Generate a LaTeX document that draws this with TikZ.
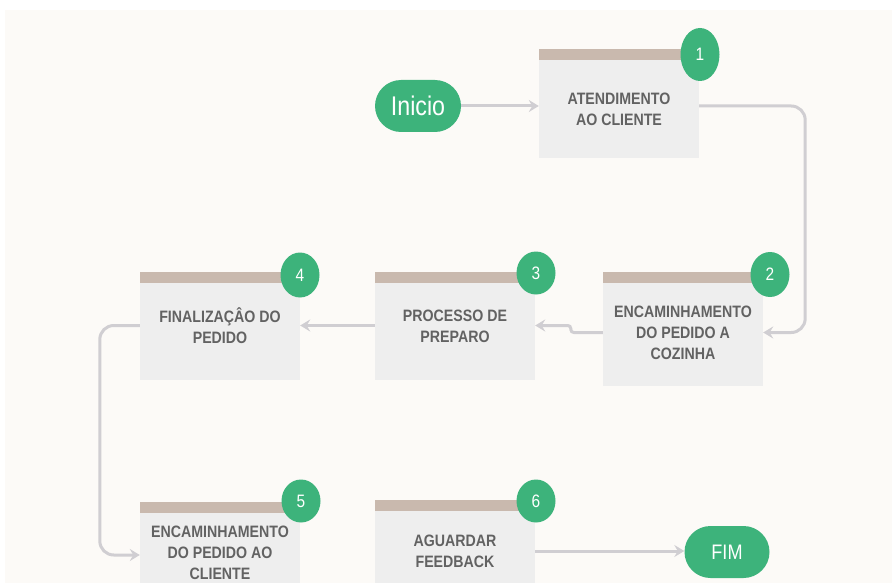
\documentclass[tikz,border=0pt]{standalone}
\usepackage{fontspec}
\setmainfont{Liberation Sans}[FakeStretch=0.86]
\usetikzlibrary{arrows.meta,positioning,shapes.geometric}
\definecolor{paper}{HTML}{FCFAF7}
\definecolor{boxgray}{HTML}{EEEEEE}
\definecolor{bartaupe}{HTML}{C9B9AE}
\definecolor{leaf}{HTML}{3DB37B}
\definecolor{wire}{HTML}{D0CED2}
\definecolor{ink}{HTML}{626262}
\tikzset{
  stepbox/.style={fill=boxgray, minimum width=160pt, inner sep=0pt, align=center,
    text=ink, font=\fontsize{16.5}{21}\selectfont\bfseries},
  badge/.style={ellipse, fill=leaf, minimum width=39pt, minimum height=43pt, inner sep=0pt,
    text=white, font=\fontsize{18}{18}\selectfont},
  terminal/.style={fill=leaf, minimum height=52pt, rounded corners=26pt, inner sep=0pt, text=white},
  flow/.style={draw=wire, line width=3pt, -{Stealth[length=10pt,width=12pt,inset=3.5pt]}}
}
\begin{document}
\begin{tikzpicture}[x=1pt, y=-1pt]
  \useasboundingbox (0,0) rectangle (892,583);
  \clip (0,0) rectangle (892,583);
  \fill[white] (0,0) rectangle (892,583);
  \fill[paper] (5,10) rectangle (892,583);

  % start and end
  \node[terminal, minimum width=86pt, font=\fontsize{27}{27}\selectfont] (start) at (418,106) {Inicio};
  \node[terminal, minimum width=85pt, font=\fontsize{21}{21}\selectfont] (fim) at (727,552) {FIM};

  % steps
  \node[stepbox, minimum height=98pt] (b1) at (619,109) {ATENDIMENTO\\AO CLIENTE};
  \node[stepbox, minimum height=103pt, text depth=4pt] (b2) at (683,334.5) {ENCAMINHAMENTO\\DO PEDIDO A\\COZINHA};
  \node[stepbox, minimum height=97pt, text depth=10pt] (b3) at (455,331.5) {PROCESSO DE\\PREPARO};
  \node[stepbox, minimum height=97pt, text depth=12pt] (b4) at (220,331.5) {FINALIZAÇÂO DO\\PEDIDO};
  \node[stepbox, minimum height=80pt] (b5) at (220,553) {ENCAMINHAMENTO\\DO PEDIDO AO\\CLIENTE};
  \node[stepbox, minimum height=80pt] (b6) at (455,551) {AGUARDAR\\FEEDBACK};

  \foreach \b in {b1,b2,b3,b4,b5,b6}
    \fill[bartaupe] (\b.north west) rectangle ([yshift=11pt]\b.north east);

  % numbers
  \node[badge, minimum height=53pt] (c1) at (700,54.5) {1};
  \node[badge, minimum height=45pt] (c2) at (770,274.5) {2};
  \node[badge] (c3) at (536,273) {3};
  \node[badge, minimum height=45pt] (c4) at (300,275) {4};
  \node[badge] (c5) at (301,501) {5};
  \node[badge] (c6) at (536,501) {6};

  % connectors
  \draw[flow] (start.east) -- (start.east -| b1.west);
  \draw[flow, rounded corners=14pt] (b1.east |- start.east) -- ++(106,0) |- ([yshift=2pt]b2.east);
  \draw[flow, rounded corners=3pt] ([yshift=2pt]b2.west) -- ++(-32,0) |- ([yshift=6pt]b3.east);
  \draw[flow] ([yshift=6pt]b3.west) -- ([yshift=6pt]b4.east);
  \draw[flow, rounded corners=14pt] ([yshift=6pt]b4.west) -- ++(-40,0) |- ([yshift=-2pt]b5.west);
  \draw[flow] (b6.east) -- (b6.east -| fim.west);
\end{tikzpicture}
\end{document}
